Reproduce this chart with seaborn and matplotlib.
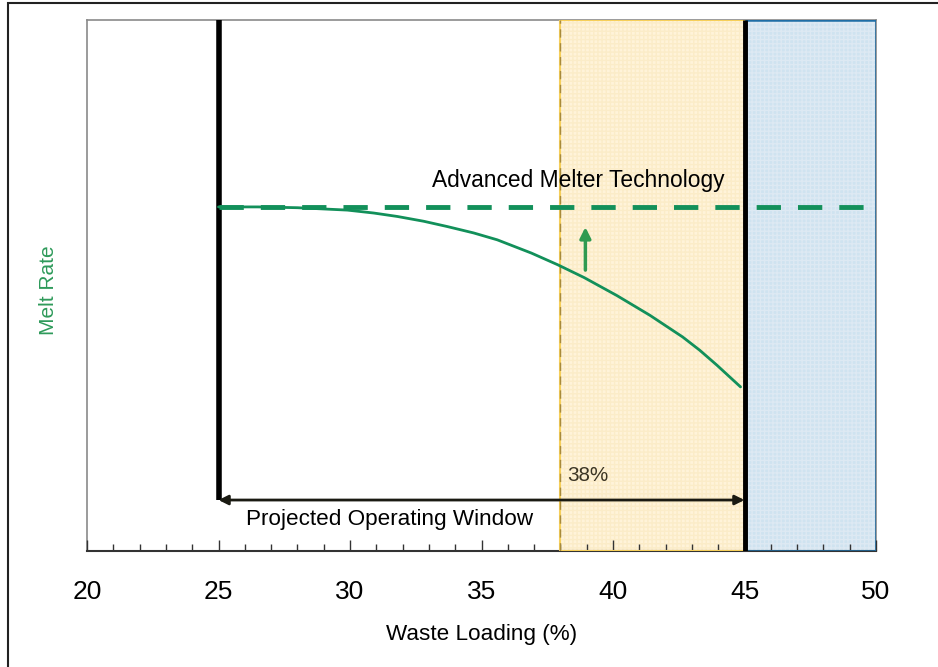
import numpy as np
import pandas as pd
import matplotlib
matplotlib.use("Agg")
import matplotlib.pyplot as plt
import seaborn as sns
from matplotlib import font_manager
from matplotlib.patches import Rectangle
from matplotlib.ticker import MultipleLocator

# waste loading (%) vs relative melt rate (arbitrary units, no y scale shown)
loading = [25.0, 26.5, 28.0, 29.9, 30.9, 31.8, 32.8, 33.7, 34.7, 35.6, 36.9,
           37.9, 38.9, 40.15, 41.4, 42.65, 43.3, 43.95, 44.85]
melt_rate = [64.8, 64.8, 64.65, 64.2, 63.65, 63.0, 62.1, 61.1, 59.9, 58.6, 56.1,
             53.9, 51.5, 48.1, 44.4, 40.3, 37.8, 35.0, 30.9]

advanced_rate = 64.8
window_low, window_high = 25, 45
limit_low, limit_high = 38, 45
blocked_low, blocked_high = 45, 50
arrow_level = 9.6
xticks = [20, 25, 30, 35, 40, 45, 50]

sns.set_theme(style="white")
plt.rcParams["font.family"] = ["Liberation Sans", "DejaVu Sans"]
plt.rcParams["text.color"] = "black"

# the labels use a narrow face; use it if present, else shrink regular sans
installed = {f.name for f in font_manager.fontManager.ttflist}
if "Liberation Sans Narrow" in installed:
    label_font, label_scale = ["Liberation Sans Narrow"], 1.0
else:
    label_font, label_scale = ["Liberation Sans", "DejaVu Sans"], 0.9

fig = plt.figure(figsize=(9.38, 6.67), dpi=100)
ax = fig.add_axes([87 / 938, 116 / 667, 789 / 938, 531 / 667])
ax.set_axisbelow(False)

green = "#12905a"

# operating limit region (yellow) and blocked region (blue)
ax.axvspan(limit_low, limit_high, facecolor="#fff3d9", edgecolor="none", zorder=1)
ax.axvspan(limit_low, limit_high, facecolor="none", edgecolor="#fbecc8",
           hatch="++++", lw=0, zorder=1)
ax.add_patch(Rectangle((limit_low, 0), limit_high - limit_low, 100,
                       facecolor="none", edgecolor="#f6cf5a", lw=1.5, zorder=4))
ax.plot([limit_low, limit_low], [0, 100], color="#a88a3a", lw=1, ls=(0, (6, 4)),
        zorder=4)

ax.axvspan(blocked_low, blocked_high, facecolor="#cfe3f0", edgecolor="none",
           zorder=1)
ax.axvspan(blocked_low, blocked_high, facecolor="none", edgecolor="#dde9f3",
           hatch="++++", lw=0, zorder=1)
ax.add_patch(Rectangle((blocked_low + 0.05, 0), blocked_high - blocked_low - 0.05, 100,
                       facecolor="none", edgecolor="#1f6ea6", lw=1.8, zorder=4))

# window boundaries and arrow
ax.plot([window_low, window_low], [arrow_level, 100], color="black", lw=4,
        solid_capstyle="butt", zorder=5)
ax.plot([window_high, window_high], [0, 100], color="black", lw=3.5,
        solid_capstyle="butt", zorder=5)
ax.annotate("", xy=(window_high, arrow_level), xytext=(window_low, arrow_level),
            arrowprops=dict(arrowstyle="<|-|>", color="#1a1a12", lw=2,
                            mutation_scale=14, shrinkA=0, shrinkB=0),
            zorder=5)

# melt rate curves
df = pd.DataFrame({"loading": loading, "melt_rate": melt_rate})
sns.lineplot(data=df, x="loading", y="melt_rate", color=green, lw=2, ax=ax,
             zorder=6)
ax.plot([window_low, blocked_high], [advanced_rate, advanced_rate], color=green,
        lw=3.5, ls=(0, (5, 3.5)), zorder=6)
ax.annotate("", xy=(38.95, 61.0), xytext=(38.95, 52.9),
            arrowprops=dict(arrowstyle="-|>", color="#2e9a50", lw=2.5,
                            mutation_scale=16, shrinkA=0, shrinkB=0),
            zorder=6)

# text
ax.text(38.25, 14.3, "38%", family=label_font, fontsize=16.5 * label_scale,
        color="#3b3524", ha="left", va="center", zorder=6)
ax.text(31.52, 6.0, "Projected Operating Window", family=label_font,
        fontsize=18 * label_scale, ha="center", va="center", zorder=6)
ax.text(38.69, 69.7, "Advanced Melter Technology", family=label_font,
        fontsize=18.2 * label_scale, ha="center", va="center", zorder=6)

ax.set_xlim(20, 50)
ax.set_ylim(0, 100)
ax.set_xticks(xticks)
ax.set_xticklabels([str(t) for t in xticks])
ax.xaxis.set_minor_locator(MultipleLocator(1))
ax.set_yticks([])
ax.tick_params(axis="x", which="major", direction="in", length=8, width=1,
               color="#333333", labelsize=19, labelcolor="black", pad=21,
               bottom=True)
ax.tick_params(axis="x", which="minor", direction="in", length=5, width=1,
               color="#333333", bottom=True)

ax.set_xlabel("Waste Loading (%)", family=label_font, fontsize=18 * label_scale,
              color="black", labelpad=14)
ax.set_ylabel("")
fig.text(48 / 938, 1 - 290 / 667, "Melt Rate", rotation=90, fontsize=15,
         color="#2e9a5a", ha="center", va="center")

for side in ["left", "top", "right"]:
    ax.spines[side].set_color("#8a8a8a")
    ax.spines[side].set_linewidth(1.2)
ax.spines["bottom"].set_color("#333333")
ax.spines["bottom"].set_linewidth(1.5)

# outer frame
fig.patches.append(Rectangle((8 / 938, -0.05), 1.2, 1 - 3 / 667 + 0.05,
                             transform=fig.transFigure, facecolor="none",
                             edgecolor="#222222", lw=1.5))

fig.savefig("out.png", dpi=100)
